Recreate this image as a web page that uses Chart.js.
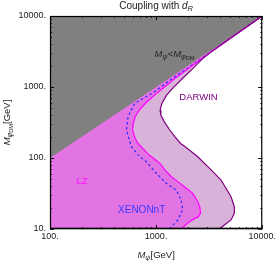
<!DOCTYPE html>
<html>
<head>
<meta charset="utf-8">
<script src="https://cdn.jsdelivr.net/npm/chart.js@4"></script>
<style>
  body { margin: 0; background: #fff; }
  canvas { display: block; }
</style>
</head>
<body>
<canvas id="chart" width="278" height="261"></canvas>
<script>
const FONT = '"Liberation Sans", Arial, sans-serif';

// Axis ticks
const xMajor = [100, 1000, 10000];
const yMajor = [10, 100, 1000, 10000];

// Diagonal M_psi = M_phiDM (edge of the grey region)
const diagX = [100, 10000, 100];
const diagY = [100, 10000, 10000];

// DARWIN limit
const darwinX = [10000, 3400, 2700, 2200, 1800, 1450, 1250, 1130, 1090, 1110, 1200, 1340, 1500, 1700, 1853, 2468, 3297, 4092, 5082, 5458, 5458, 5082, 4397, 3945];
const darwinY = [10000, 3250, 2450, 1800, 1350, 980, 760, 580, 470, 400, 320, 250, 200, 160, 146, 104, 68, 49, 28.5, 20.6, 16.6, 13.4, 11.4, 10];

// LZ limit
const lzX = [10000, 3000, 2000, 1500, 1200, 1000, 820, 700, 640, 610, 600, 625, 665, 745, 860, 1000, 1100, 1210, 1400, 1650, 1900, 2200, 2450, 2580, 2620, 2500, 2300, 2064, 1900, 1725];
const lzY = [10000, 2820, 1800, 1320, 1000, 800, 620, 480, 390, 310, 250, 200, 165, 138, 110, 93, 82, 68, 54, 45, 38, 32, 25, 20.6, 16.8, 14.8, 14, 12.7, 11.4, 10];

// XENONnT limit
const xenonX = [10000, 3000, 2000, 1400, 968, 629, 544, 525, 584, 700, 809, 1004, 1247, 1548, 1725, 1776, 1603, 1340];
const xenonY = [10000, 2850, 1850, 1300, 859, 589, 382, 248, 144, 105, 88.7, 60.9, 44, 35.3, 25.6, 18.5, 13.4, 10];

// Corner points closing the shaded areas on the left side
const cornerX = [100, 100];
const cornerY = [10, 10000];

// Text labels inside the plot (data coordinates)
const notes = [
  { x: 1493, y: 2917, size: 9.5, color: '#222', parts: [['M', 1, 0], ['ψ', 1, 1], ['<', 0, 0], ['M', 1, 0], ['φ', 1, 1], ['DM', 0, 2]] },
  { x: 2506, y: 723, size: 9.5, color: '#800080', parts: [['DARWIN', 0, 0]] },
  { x: 200, y: 47.4, size: 9.5, color: '#ff10ff', parts: [['LZ', 0, 0]] },
  { x: 731, y: 18.5, size: 10, color: '#3a3aff', parts: [['XENONnT', 0, 0]] }
];

function pts(xs, ys) {
  return xs.map((x, i) => ({ x: x, y: ys[i] }));
}

function isMajor(v, list) {
  return list.some(m => Math.abs(v - m) < 1e-6 * m);
}

// draw text with italic / subscript pieces: [text, italic, level]
function drawRich(ctx, parts, x, y, size) {
  const fontOf = p => (p[1] ? 'italic ' : '') + (p[2] === 2 ? size * 0.6 : p[2] === 1 ? size * 0.75 : size) + 'px ' + FONT;
  let w = 0;
  const widths = parts.map(p => { ctx.font = fontOf(p); const pw = ctx.measureText(p[0]).width; w += pw; return pw; });
  let cx = x - w / 2;
  ctx.textAlign = 'left';
  ctx.textBaseline = 'middle';
  parts.forEach((p, i) => {
    ctx.font = fontOf(p);
    ctx.fillText(p[0], cx, y + (p[2] === 2 ? size * 0.42 : p[2] === 1 ? size * 0.3 : 0));
    cx += widths[i];
  });
}

const decorations = {
  id: 'decorations',
  afterDraw(chart) {
    const { ctx, chartArea: a, scales: { x, y } } = chart;
    ctx.save();

    // frame
    ctx.strokeStyle = '#000';
    ctx.lineWidth = 1.2;
    ctx.strokeRect(a.left + 0.5, a.top + 0.5, a.right - a.left - 1, a.bottom - a.top - 1);
    ctx.lineWidth = 1.6;
    ctx.beginPath();
    ctx.moveTo(a.left, a.bottom - 0.5);
    ctx.lineTo(a.right, a.bottom - 0.5);
    ctx.stroke();

    // inward ticks on all four sides
    ctx.lineWidth = 0.8;
    ctx.beginPath();
    for (let d = 100; d < 10000; d *= 10) {
      for (let k = 1; k <= 10; k++) {
        const px = Math.round(x.getPixelForValue(d * k)) + 0.5;
        const len = (k === 1 || k === 10) ? 4 : 2;
        ctx.moveTo(px, a.bottom); ctx.lineTo(px, a.bottom - len);
        ctx.moveTo(px, a.top); ctx.lineTo(px, a.top + len);
      }
    }
    for (let d = 10; d < 10000; d *= 10) {
      for (let k = 1; k <= 10; k++) {
        const py = Math.round(y.getPixelForValue(d * k)) + 0.5;
        const len = (k === 1 || k === 10) ? 4 : 2;
        ctx.moveTo(a.left, py); ctx.lineTo(a.left + len, py);
        ctx.moveTo(a.right, py); ctx.lineTo(a.right - len, py);
      }
    }
    ctx.stroke();

    // labels inside the plot
    notes.forEach(n => {
      ctx.fillStyle = n.color;
      drawRich(ctx, n.parts, x.getPixelForValue(n.x), y.getPixelForValue(n.y), n.size);
    });

    // title and axis titles
    ctx.fillStyle = '#222';
    drawRich(ctx, [['Coupling with ', 0, 0], ['d', 1, 0], ['R', 1, 1]], (a.left + a.right) / 2, 6, 10);
    drawRich(ctx, [['M', 1, 0], ['ψ', 1, 1], ['[GeV]', 0, 0]], (a.left + a.right) / 2, 255, 9.5);
    ctx.translate(7, (a.top + a.bottom) / 2);
    ctx.rotate(-Math.PI / 2);
    drawRich(ctx, [['M', 1, 0], ['φ', 1, 1], ['DM', 0, 2], ['[GeV]', 0, 0]], 0, 0, 9.5);

    ctx.restore();
  }
};

function area(xs, ys, color, order) {
  return {
    data: pts(xs, ys),
    backgroundColor: color,
    borderColor: 'transparent',
    borderWidth: 0,
    pointRadius: 0,
    tension: 0,
    fill: 'shape',
    order: order
  };
}

function curve(xs, ys, color, dash) {
  return {
    data: pts(xs, ys),
    borderColor: color,
    borderWidth: 1.2,
    borderDash: dash,
    pointRadius: 0,
    tension: 0,
    fill: false,
    order: 0
  };
}

new Chart(document.getElementById('chart').getContext('2d'), {
  type: 'line',
  data: {
    datasets: [
      area(darwinX.concat(cornerX), darwinY.concat(cornerY), '#d9b2d9', 3),
      area(lzX.concat(cornerX), lzY.concat(cornerY), '#e273e2', 2),
      area(diagX, diagY, '#808080', 1),
      curve(darwinX, darwinY, '#7f007f', []),
      curve(lzX, lzY, '#ff00ff', []),
      curve(xenonX, xenonY, '#2b2bff', [2.5, 2.5])
    ]
  },
  options: {
    responsive: false,
    animation: false,
    layout: { padding: { top: 16, right: 15, left: 0, bottom: 0 } },
    plugins: {
      legend: { display: false },
      tooltip: { enabled: false },
      title: { display: false }
    },
    scales: {
      x: {
        type: 'logarithmic',
        min: 100,
        max: 10000,
        grid: { display: false, drawTicks: false },
        border: { display: false },
        ticks: {
          autoSkip: false,
          maxRotation: 0,
          padding: 2,
          color: '#222',
          font: { family: FONT, size: 9 },
          callback: v => isMajor(v, xMajor) ? Math.round(v) + '.' : ''
        },
        afterFit: s => { s.height = 32; }
      },
      y: {
        type: 'logarithmic',
        min: 10,
        max: 10000,
        grid: { display: false, drawTicks: false },
        border: { display: false },
        ticks: {
          autoSkip: false,
          padding: 4,
          color: '#222',
          font: { family: FONT, size: 9 },
          callback: v => isMajor(v, yMajor) ? Math.round(v) + '.' : ''
        },
        afterFit: s => { s.width = 50; }
      }
    }
  },
  plugins: [decorations]
});
</script>
</body>
</html>
